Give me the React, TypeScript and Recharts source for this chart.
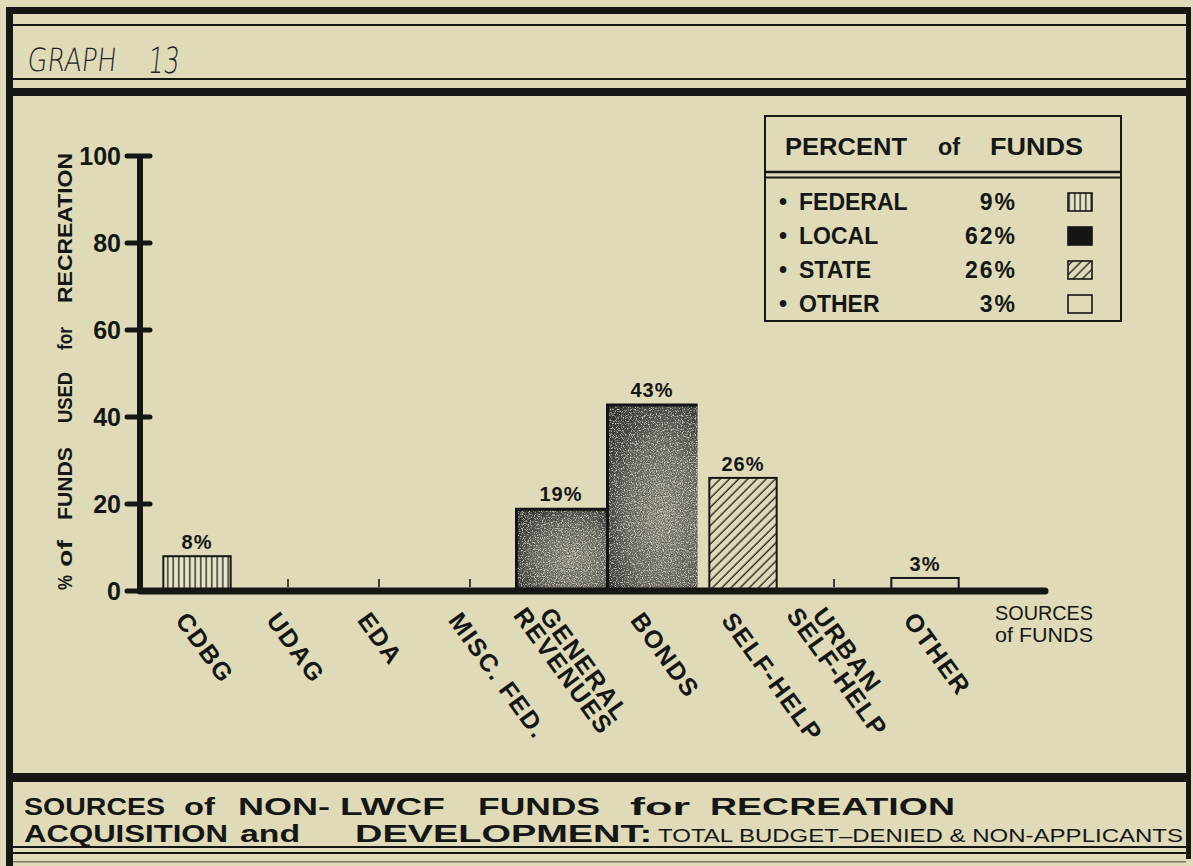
import React from 'react';
import { BarChart, Bar, XAxis, YAxis, LabelList, Legend } from 'recharts';

// ---------- data ----------
const categories = ['CDBG', 'UDAG', 'EDA', 'MISC. FED.', 'GENERAL\nREVENUES', 'BONDS', 'SELF-HELP', 'URBAN\nSELF-HELP', 'OTHER'];
const values = [8, 0, 0, 0, 19, 43, 26, 0, 3];
const sourceGroups = ['federal', 'federal', 'federal', 'federal', 'local', 'local', 'state', 'state', 'other'];
const groupKeys = ['federal', 'local', 'state', 'other'];
const groupLabels = ['FEDERAL', 'LOCAL', 'STATE', 'OTHER'];
const groupPercents = [9, 62, 26, 3];
const yTicks = [0, 20, 40, 60, 80, 100];

const data = categories.map((name, i) => ({ name, value: values[i], group: sourceGroups[i] }));

// ---------- style ----------
const BG = '#dfdbb9';
const INK = '#161614';
const SANS = "'Liberation Sans', Arial, sans-serif";
const NARROW = "'Liberation Sans Narrow', 'Liberation Sans', Arial, sans-serif";

const barFill: Record<string, string> = {
  federal: 'url(#fedPat)',
  local: 'url(#localGrad)',
  state: 'url(#statePat)',
  other: BG,
};
const legendFill: Record<string, string> = {
  federal: 'url(#fedPat)',
  local: '#151515',
  state: 'url(#statePat)',
  other: BG,
};

const BarShape = (props: any) => {
  const { x, y, width, height, payload } = props;
  if (!height || height <= 0) return null;
  const g = payload.group;
  if (g === 'local') {
    return (
      <g>
        <rect x={x} y={y} width={width} height={height} fill={barFill.local} filter="url(#grain)" />
        <path d={`M${x + 1},${y + height} L${x + 1},${y + 1} L${x + width},${y + 1}`} stroke="#141414" strokeWidth={3} fill="none" />
      </g>
    );
  }
  const inset = width * 0.13;
  return (
    <rect x={x + inset} y={y} width={width - 2 * inset} height={height} fill={barFill[g]} stroke={INK} strokeWidth={2} />
  );
};

const ValueLabel = (props: any) => {
  const { x, y, width, value } = props;
  if (!value) return null;
  return (
    <text x={x + width / 2} y={y - 7} textAnchor="middle" fontFamily={SANS} fontWeight={700} fontSize={20} letterSpacing={1} fill={INK}>
      {value}%
    </text>
  );
};

const YTick = (props: any) => {
  const { x, y, payload } = props;
  return (
    <g>
      <line x1={x - 13} x2={x + 10} y1={y} y2={y} stroke={INK} strokeWidth={5} strokeLinecap="round" />
      <text x={x - 19} y={y} dy="0.36em" textAnchor="end" fontFamily={SANS} fontWeight={700} fontSize={25} fill={INK}>
        {payload.value}
      </text>
    </g>
  );
};

const XTick = (props: any) => {
  const { x, y, payload } = props;
  const label = String(payload.value);
  const idx = categories.indexOf(label);
  const lines = label.split('\n');
  const ang = 54;
  const h = 18;
  const s = Math.sin((ang * Math.PI) / 180);
  const c = Math.cos((ang * Math.PI) / 180);
  const tops = lines.length === 1 ? [{ tx: x - 8, ty: y + 19 }] : [{ tx: x - 8, ty: y + 14 }, { tx: x - 34, ty: y + 14 }];
  return (
    <g>
      {values[idx] === 0 && <line x1={x} x2={x} y1={y - 4} y2={y - 12} stroke={INK} strokeWidth={1.6} />}
      {lines.map((ln, i) => {
        const bx = tops[i].tx - h * s;
        const by = tops[i].ty + h * c;
        return (
          <text key={i} transform={`translate(${bx},${by}) rotate(${ang})`} x={0} y={0} textAnchor="start" fontFamily={SANS} fontWeight={700} fontSize={25} letterSpacing={1.5} fill={INK}>
            {ln}
          </text>
        );
      })}
    </g>
  );
};

const LegendBox = () => (
  <svg width={360} height={210} style={{ display: 'block', overflow: 'visible' }}>
    <rect x={1} y={1} width={356} height={205} fill="none" stroke={INK} strokeWidth={2} />
    <g fontFamily={SANS} fontWeight={700} fontSize={24} fill={INK}>
      <text x={21} y={40} textLength={122} lengthAdjust="spacingAndGlyphs">PERCENT</text>
      <text x={174} y={40} textLength={22} lengthAdjust="spacingAndGlyphs">of</text>
      <text x={226} y={40} textLength={93} lengthAdjust="spacingAndGlyphs">FUNDS</text>
    </g>
    <line x1={1} x2={357} y1={57} y2={57} stroke={INK} strokeWidth={2.5} />
    <line x1={1} x2={357} y1={62.5} y2={62.5} stroke={INK} strokeWidth={1.8} />
    {groupLabels.map((lab, i) => {
      const by = 95 + 34 * i;
      return (
        <g key={lab} fontFamily={SANS} fontWeight={700} fontSize={23} fill={INK}>
          <text x={15} y={by}>•</text>
          <text x={35} y={by}>{lab}</text>
          <text x={253} y={by} textAnchor="end" letterSpacing={2}>{groupPercents[i]}%</text>
          <rect x={304} y={by - 17} width={24} height={18} fill={legendFill[groupKeys[i]]} stroke={INK} strokeWidth={1.6} />
        </g>
      );
    })}
  </svg>
);

const titleWords1 = [
  ['SOURCES', 24, 141], ['of', 184, 31], ['NON-', 238, 92], ['LWCF', 340, 105], ['FUNDS', 478, 122], ['for', 630, 60], ['RECREATION', 710, 245],
];
const titleWords2 = [
  ['ACQUISITION', 24, 204], ['and', 240, 60], ['DEVELOPMENT:', 355, 297],
];
const yTitleWords = [
  ['%', 590, 15], ['of', 567, 27], ['FUNDS', 520, 73], ['USED', 423, 51], ['for', 350, 23], ['RECREATION', 303, 150],
];

const Overlay = () => (
  <svg width={1193} height={866} style={{ position: 'absolute', left: 0, top: 0, pointerEvents: 'none' }}>
    <defs>
      <pattern id="fedPat" patternUnits="userSpaceOnUse" width={5.5} height={10}>
        <rect width={5.5} height={10} fill="#e6e3c6" />
        <line x1={2.75} x2={2.75} y1={0} y2={10} stroke="#1c1c1a" strokeWidth={1.3} />
      </pattern>
      <pattern id="statePat" patternUnits="userSpaceOnUse" width={6.5} height={10} patternTransform="rotate(45)">
        <rect width={6.5} height={10} fill={BG} />
        <line x1={3} x2={3} y1={0} y2={10} stroke="#1c1c1a" strokeWidth={1.3} />
      </pattern>
      <radialGradient id="localGrad" cx="0.62" cy="0.6" r="0.75">
        <stop offset="0" stopColor="#a29e8c" />
        <stop offset="0.55" stopColor="#75726a" />
        <stop offset="0.85" stopColor="#3a3936" />
        <stop offset="1" stopColor="#1d1d1b" />
      </radialGradient>
      <filter id="grain" x="0" y="0" width="1" height="1">
        <feTurbulence type="fractalNoise" baseFrequency="0.85" numOctaves="2" seed="7" result="n" />
        <feColorMatrix in="n" type="matrix" values="0 0 0 0 0.08  0 0 0 0 0.08  0 0 0 0 0.07  -2.8 0 0 0 1.6" result="dk" />
        <feColorMatrix in="n" type="matrix" values="0 0 0 0 0.82  0 0 0 0 0.81  0 0 0 0 0.74  2.8 0 0 0 -1.45" result="lt" />
        <feComposite in="dk" in2="SourceGraphic" operator="in" result="dk2" />
        <feComposite in="lt" in2="SourceGraphic" operator="in" result="lt2" />
        <feMerge>
          <feMergeNode in="SourceGraphic" />
          <feMergeNode in="dk2" />
          <feMergeNode in="lt2" />
        </feMerge>
      </filter>
    </defs>

    {/* frame */}
    <g fill={INK}>
      <rect x={6} y={7} width={7} height={859} />
      <rect x={6} y={7} width={1185} height={7} />
      <rect x={1186} y={7} width={5} height={852} />
      <rect x={13} y={24} width={1173} height={2} />
      <rect x={13} y={78} width={1173} height={2} />
      <rect x={13} y={88} width={1173} height={8} />
      <rect x={13} y={773} width={1173} height={9} />
      <rect x={13} y={846} width={1173} height={2} />
      <rect x={13} y={852} width={1173} height={2} />
      <rect x={13} y={861} width={1173} height={1.5} opacity={0.5} />
    </g>

    {/* handwritten header */}
    <g fontFamily="'DejaVu Sans', sans-serif" fontWeight={200} fill="#222" transform="skewX(-6)">
      <text x={34} y={71} fontSize={32} textLength={89} lengthAdjust="spacingAndGlyphs">GRAPH</text>
      <text x={155} y={73} fontSize={36} textLength={31} lengthAdjust="spacingAndGlyphs">13</text>
    </g>

    {/* y axis title */}
    <g transform="translate(72,0) rotate(-90)" fontFamily={SANS} fontWeight={700} fontSize={21} fill={INK}>
      {yTitleWords.map(([w, sy, len]) => (
        <text key={String(w)} x={-Number(sy)} y={0} textLength={Number(len)} lengthAdjust="spacingAndGlyphs">{w}</text>
      ))}
    </g>

    {/* x axis title */}
    <g fontFamily={SANS} fontSize={20} fill={INK}>
      <text x={995} y={620} textLength={98} lengthAdjust="spacingAndGlyphs">SOURCES</text>
      <text x={995} y={642} textLength={98} lengthAdjust="spacingAndGlyphs">of FUNDS</text>
    </g>

    {/* bottom title */}
    <g fontFamily={NARROW} fontWeight={700} fontSize={24} fill={INK}>
      {titleWords1.map(([w, x, len]) => (
        <text key={String(w)} x={Number(x)} y={815} textLength={Number(len)} lengthAdjust="spacingAndGlyphs">{w}</text>
      ))}
      {titleWords2.map(([w, x, len]) => (
        <text key={String(w)} x={Number(x)} y={842} textLength={Number(len)} lengthAdjust="spacingAndGlyphs">{w}</text>
      ))}
    </g>
    <text x={658} y={842} fontFamily={NARROW} fontSize={19} fill={INK} textLength={525} lengthAdjust="spacingAndGlyphs">
      TOTAL BUDGET–DENIED &amp; NON-APPLICANTS
    </text>
  </svg>
);

export default function App() {
  return (
    <div style={{ position: 'absolute', left: 0, top: 0, width: 1193, height: 866, background: BG, overflow: 'hidden' }}>
      <BarChart
        width={1193}
        height={866}
        data={data}
        margin={{ top: 156, right: 148, bottom: 155, left: 0 }}
        barCategoryGap={0}
        barGap={0}
      >
        <XAxis
          dataKey="name"
          interval={0}
          padding={{ left: 11.5, right: 74.5 }}
          height={120}
          tickSize={0}
          tickMargin={0}
          tickLine={false}
          axisLine={{ stroke: INK, strokeWidth: 7, strokeLinecap: 'round' }}
          tick={(p: any) => <XTick {...p} />}
        />
        <YAxis
          type="number"
          domain={[0, 100]}
          ticks={yTicks}
          width={140}
          tickSize={0}
          tickMargin={0}
          tickLine={false}
          axisLine={{ stroke: INK, strokeWidth: 6 }}
          tick={(p: any) => <YTick {...p} />}
        />
        <Legend
          layout="vertical"
          align="center"
          verticalAlign="middle"
          content={() => <LegendBox />}
          wrapperStyle={{ left: 764, top: 115, width: 360, height: 210 }}
        />
        <Bar dataKey="value" shape={(p: any) => <BarShape {...p} />} isAnimationActive={false}>
          <LabelList dataKey="value" content={(p: any) => <ValueLabel {...p} />} />
        </Bar>
      </BarChart>
      <Overlay />
    </div>
  );
}
